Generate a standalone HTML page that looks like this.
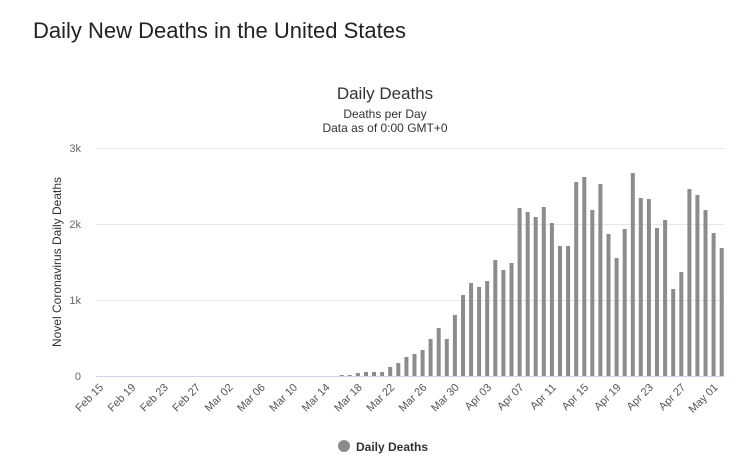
<!DOCTYPE html>
<html><head><meta charset="utf-8"><style>
body{margin:0;background:#fff;width:749px;height:471px;overflow:hidden;font-family:"Liberation Sans",sans-serif}
</style></head><body>
<svg width="749" height="471" xmlns="http://www.w3.org/2000/svg" font-family="Liberation Sans, sans-serif">
<text x="33" y="38" font-size="22" fill="#222">Daily New Deaths in the United States</text>
<text x="385" y="99" font-size="17" fill="#333" text-anchor="middle">Daily Deaths</text>
<text x="385" y="118" font-size="12" fill="#333" text-anchor="middle">Deaths per Day</text>
<text x="385" y="132" font-size="12" fill="#333" text-anchor="middle">Data as of 0:00 GMT+0</text>
<g stroke="#e6e6e6" stroke-width="1">
<line x1="96" y1="148.5" x2="724" y2="148.5"/><line x1="96" y1="224.5" x2="724" y2="224.5"/><line x1="96" y1="300.5" x2="724" y2="300.5"/>
</g>
<line x1="96" y1="376.5" x2="724" y2="376.5" stroke="#ccd6eb"/>
<g font-size="11" fill="#666" text-anchor="end">
<text x="81" y="152">3k</text><text x="81" y="228">2k</text><text x="81" y="304">1k</text><text x="81" y="380">0</text>
</g>
<text transform="translate(61,262) rotate(-90)" font-size="12" fill="#333" text-anchor="middle">Novel Coronavirus Daily Deaths</text>
<g id="bars" fill="#8c8c8c"></g>
<g id="labels" font-size="11" fill="#555" text-anchor="end"></g>
<circle cx="344" cy="446" r="6" fill="#8c8c8c"/>
<text x="356" y="451" font-size="12" font-weight="bold" fill="#333">Daily Deaths</text>
</svg>
<script>
var tops=[705,705,699,696,696,696,681,669,651,642,630,597,564,597,525,465,429,441,423,360,390,369,204,216,231,201,249,318,318,126,111,210,132,282,354,267,99,174,177,264,240,447,396,147,165,210,279,324];
var g=document.getElementById('bars'),s='';
for(var i=0;i<tops.length;i++){var cx=341.7+i*8.085,h=(708-tops[i])/3;s+='<rect x="'+(cx-2).toFixed(1)+'" y="'+(376-h).toFixed(1)+'" width="4" height="'+h.toFixed(1)+'"/>';}
g.innerHTML=s;
var L=["Feb 15","Feb 19","Feb 23","Feb 27","Mar 02","Mar 06","Mar 10","Mar 14","Mar 18","Mar 22","Mar 26","Mar 30","Apr 03","Apr 07","Apr 11","Apr 15","Apr 19","Apr 23","Apr 27","May 01"];
var t='';for(var j=0;j<L.length;j++){var x=104+j*32.34;t+='<text transform="translate('+x.toFixed(1)+',388) rotate(-45)">'+L[j]+'</text>';}
document.getElementById('labels').innerHTML=t;
</script>
</body></html>
